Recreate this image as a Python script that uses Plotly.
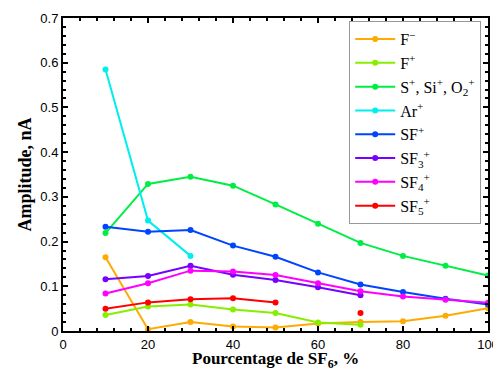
import plotly.graph_objects as go

x = [10, 20, 30, 40, 50, 60, 70, 80, 90, 100]

f_minus = [0.165, 0.004, 0.020, 0.010, 0.008, 0.017, 0.020, 0.022, 0.034, 0.051]
f_plus = [0.036, 0.055, 0.059, 0.048, 0.040, 0.019, 0.014, None, None, None]
s_plus = [0.219, 0.329, 0.345, 0.325, 0.283, 0.240, 0.197, 0.168, 0.146, 0.124]
ar_plus = [0.585, 0.247, 0.168, None, None, None, None, None, None, None]
sf_plus = [0.233, 0.222, 0.226, 0.191, 0.166, 0.131, 0.104, 0.087, 0.072, 0.059]
sf3_plus = [0.116, 0.123, 0.146, 0.126, 0.114, 0.098, 0.080, None, None, None]
sf4_plus = [0.084, 0.107, 0.135, 0.133, 0.125, 0.107, 0.089, 0.077, 0.070, 0.063]
sf5_plus = [0.050, 0.064, 0.071, 0.073, 0.064, None, 0.040, None, None, None]

names = ["F<sup>−</sup>", "F<sup>+</sup>", "S<sup>+</sup>, Si<sup>+</sup>, O<sub>2</sub><sup>+</sup>",
         "Ar<sup>+</sup>", "SF<sup>+</sup>", "SF<sub>3</sub><sup>+</sup>",
         "SF<sub>4</sub><sup>+</sup>", "SF<sub>5</sub><sup>+</sup>"]
series = [f_minus, f_plus, s_plus, ar_plus, sf_plus, sf3_plus, sf4_plus, sf5_plus]
colors = ["#FFAA00", "#88EE00", "#00EE44", "#00EEEE", "#0044FF", "#7700FF", "#FF00FF", "#FF0000"]

x_ticks = [0, 20, 40, 60, 80, 100]
y_ticks = [0, 0.1, 0.2, 0.3, 0.4, 0.5, 0.6, 0.7]
y_tick_labels = ["0", "0.1", "0.2", "0.3", "0.4", "0.5", "0.6", "0.7"]
x_title = "<b>Pourcentage de SF<sub>6</sub>, %</b>"
y_title = "<b>Amplitude, nA</b>"

fig = go.Figure()
for n, s, c in zip(names, series, colors):
    fig.add_trace(go.Scatter(x=x, y=s, name=n, mode="lines+markers",
                             line=dict(color=c, width=2),
                             marker=dict(color=c, size=6),
                             connectgaps=False))

axis_common = dict(showline=True, linecolor="black", linewidth=2, mirror="ticks",
                   ticks="inside", ticklen=5, tickwidth=1.5, tickcolor="black",
                   showgrid=False, zeroline=False, automargin=False,
                   tickfont=dict(family="Liberation Sans, Arial", size=13, color="black"))

fig.update_xaxes(range=[0, 100], tickvals=x_ticks,
                 minor=dict(dtick=4, ticks="inside", ticklen=3, tickcolor="black", showgrid=False),
                 ticklabelstandoff=0,
                 **axis_common)
fig.update_yaxes(range=[0, 0.7], tickvals=y_ticks, ticktext=y_tick_labels,
                 minor=dict(dtick=0.02, ticks="inside", ticklen=3, tickcolor="black", showgrid=False),
                 title=dict(text=y_title,
                            font=dict(family="Liberation Serif, DejaVu Serif", size=18, color="black"),
                            standoff=4),
                 **axis_common)

fig.add_annotation(text=x_title, xref="paper", yref="paper", x=0.5, y=-0.05,
                   xanchor="center", yanchor="top", showarrow=False,
                   font=dict(family="Liberation Serif, DejaVu Serif", size=17, color="black"))

fig.update_layout(
    width=493, height=362,
    margin=dict(l=55, r=13, t=10, b=39),
    plot_bgcolor="white", paper_bgcolor="white",
    legend=dict(x=0.984, y=0.99, xanchor="right", yanchor="top",
                bgcolor="white", bordercolor="#999999", borderwidth=1,
                font=dict(family="Liberation Serif, DejaVu Serif", size=16, color="black"),
                tracegroupgap=0, itemwidth=40),
    showlegend=True,
)

fig.write_html("out.html")
